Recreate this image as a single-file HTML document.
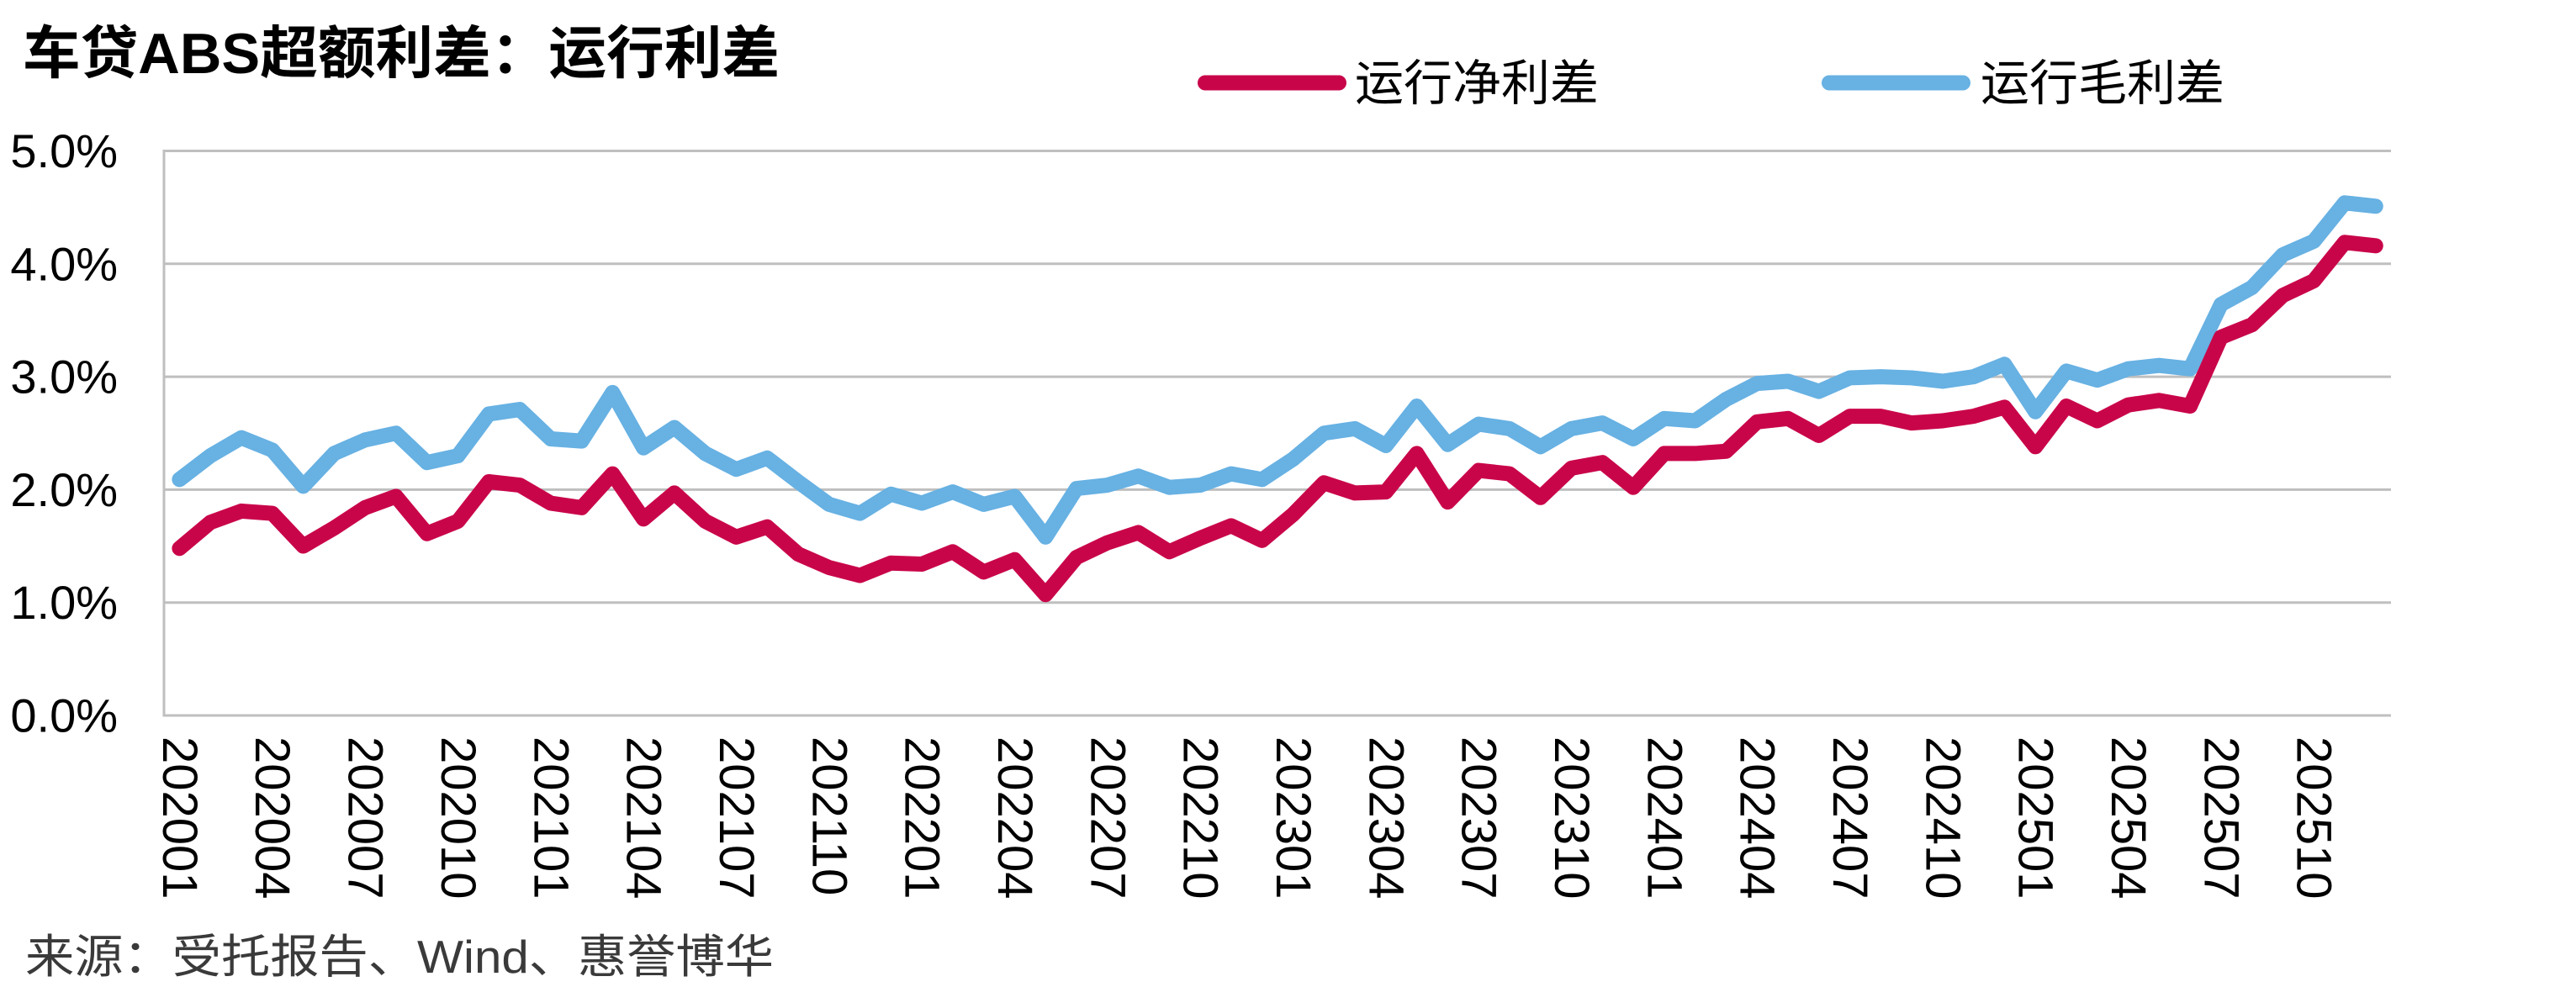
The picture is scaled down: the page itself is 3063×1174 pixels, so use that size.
<!DOCTYPE html>
<html>
<head>
<meta charset="utf-8">
<style>
html,body{margin:0;padding:0;background:#fff;}
svg{display:block;}
</style>
</head>
<body>
<svg width="3063" height="1174" viewBox="0 0 3063 1174" xmlns="http://www.w3.org/2000/svg">
<rect x="0" y="0" width="3063" height="1174" fill="#fff"/>
<!-- Title -->
<text x="27" y="87" font-family="'Liberation Sans','Noto Sans CJK SC',sans-serif" font-weight="bold" font-size="68" fill="#000" textLength="900" lengthAdjust="spacingAndGlyphs">车贷ABS超额利差：运行利差</text>
<!-- Legend -->
<line x1="1433" y1="98.5" x2="1592" y2="98.5" stroke="#C9054A" stroke-width="18" stroke-linecap="round"/>
<text x="1611" y="119" font-family="'Liberation Sans','Noto Sans CJK SC',sans-serif" font-size="58" fill="#000">运行净利差</text>
<line x1="2175" y1="98.5" x2="2334" y2="98.5" stroke="#67B1E3" stroke-width="18" stroke-linecap="round"/>
<text x="2355" y="119" font-family="'Liberation Sans','Noto Sans CJK SC',sans-serif" font-size="58" fill="#000">运行毛利差</text>
<!-- Gridlines -->
<g stroke="#BFBFBF" stroke-width="3">
<line x1="195" y1="179.5" x2="2843" y2="179.5"/>
<line x1="195" y1="313.8" x2="2843" y2="313.8"/>
<line x1="195" y1="448.1" x2="2843" y2="448.1"/>
<line x1="195" y1="582.4" x2="2843" y2="582.4"/>
<line x1="195" y1="716.7" x2="2843" y2="716.7"/>
<line x1="195" y1="851" x2="2843" y2="851"/>
<line x1="195" y1="178" x2="195" y2="852.5"/>
</g>
<!-- Y labels -->
<g font-family="'Liberation Sans',sans-serif" font-size="56" fill="#000" text-anchor="end" dominant-baseline="central">
<text x="140" y="179.5">5.0%</text>
<text x="140" y="313.8">4.0%</text>
<text x="140" y="448.1">3.0%</text>
<text x="140" y="582.4">2.0%</text>
<text x="140" y="716.7">1.0%</text>
<text x="140" y="851">0.0%</text>
</g>
<!-- Series -->
<g transform="matrix(36.78,0,0,-134.3,213.4,851)" fill="none" stroke-linejoin="round" stroke-linecap="round">
<polyline vector-effect="non-scaling-stroke" stroke="#67B1E3" stroke-width="18" points="0,2.09 1,2.30 2,2.46 3,2.35 4,2.03 5,2.32 6,2.44 7,2.50 8,2.24 9,2.30 10,2.67 11,2.71 12,2.45 13,2.43 14,2.86 15,2.37 16,2.55 17,2.32 18,2.18 19,2.28 20,2.07 21,1.87 22,1.79 23,1.96 24,1.88 25,1.98 26,1.87 27,1.94 28,1.58 29,2.01 30,2.04 31,2.12 32,2.02 33,2.04 34,2.14 35,2.09 36,2.27 37,2.50 38,2.54 39,2.39 40,2.74 41,2.40 42,2.58 43,2.54 44,2.38 45,2.54 46,2.59 47,2.45 48,2.63 49,2.61 50,2.80 51,2.94 52,2.96 53,2.87 54,2.99 55,3.00 56,2.99 57,2.96 58,3.00 59,3.11 60,2.69 61,3.05 62,2.97 63,3.07 64,3.10 65,3.07 66,3.64 67,3.79 68,4.08 69,4.20 70,4.54 71,4.51"/>
<polyline vector-effect="non-scaling-stroke" stroke="#C9054A" stroke-width="18" points="0,1.48 1,1.71 2,1.81 3,1.79 4,1.50 5,1.66 6,1.84 7,1.94 8,1.61 9,1.72 10,2.07 11,2.04 12,1.88 13,1.84 14,2.14 15,1.74 16,1.97 17,1.72 18,1.58 19,1.67 20,1.43 21,1.31 22,1.24 23,1.35 24,1.34 25,1.45 26,1.27 27,1.38 28,1.07 29,1.40 30,1.53 31,1.62 32,1.45 33,1.57 34,1.68 35,1.55 36,1.78 37,2.06 38,1.97 39,1.98 40,2.32 41,1.89 42,2.17 43,2.14 44,1.93 45,2.19 46,2.24 47,2.02 48,2.32 49,2.32 50,2.34 51,2.60 52,2.63 53,2.48 54,2.65 55,2.65 56,2.59 57,2.61 58,2.65 59,2.73 60,2.38 61,2.74 62,2.61 63,2.75 64,2.79 65,2.74 66,3.35 67,3.46 68,3.72 69,3.85 70,4.19 71,4.16"/>
</g>
<!-- X labels -->
<g font-family="'Liberation Sans',sans-serif" font-size="58" fill="#000" dominant-baseline="central">
<text transform="translate(213.4,876) rotate(90)">202001</text>
<text transform="translate(323.7,876) rotate(90)">202004</text>
<text transform="translate(434.1,876) rotate(90)">202007</text>
<text transform="translate(544.4,876) rotate(90)">202010</text>
<text transform="translate(654.8,876) rotate(90)">202101</text>
<text transform="translate(765.1,876) rotate(90)">202104</text>
<text transform="translate(875.4,876) rotate(90)">202107</text>
<text transform="translate(985.8,876) rotate(90)">202110</text>
<text transform="translate(1096.1,876) rotate(90)">202201</text>
<text transform="translate(1206.5,876) rotate(90)">202204</text>
<text transform="translate(1316.8,876) rotate(90)">202207</text>
<text transform="translate(1427.1,876) rotate(90)">202210</text>
<text transform="translate(1537.5,876) rotate(90)">202301</text>
<text transform="translate(1647.8,876) rotate(90)">202304</text>
<text transform="translate(1758.2,876) rotate(90)">202307</text>
<text transform="translate(1868.5,876) rotate(90)">202310</text>
<text transform="translate(1978.8,876) rotate(90)">202401</text>
<text transform="translate(2089.2,876) rotate(90)">202404</text>
<text transform="translate(2199.5,876) rotate(90)">202407</text>
<text transform="translate(2309.9,876) rotate(90)">202410</text>
<text transform="translate(2420.2,876) rotate(90)">202501</text>
<text transform="translate(2530.5,876) rotate(90)">202504</text>
<text transform="translate(2640.9,876) rotate(90)">202507</text>
<text transform="translate(2751.2,876) rotate(90)">202510</text>
</g>
<!-- Source -->
<text x="30" y="1157" font-family="'Liberation Sans','Noto Sans CJK SC',sans-serif" font-size="55" fill="#3a3a3a" textLength="890" lengthAdjust="spacingAndGlyphs">来源：受托报告、Wind、惠誉博华</text>
</svg>
</body>
</html>
